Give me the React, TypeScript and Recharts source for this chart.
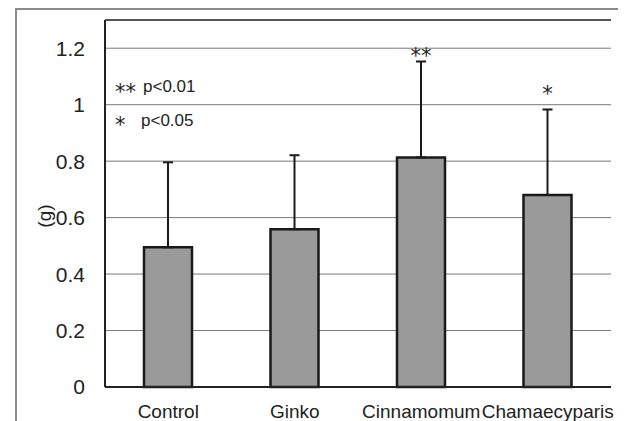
import React from 'react';
import {
  ComposedChart,
  Bar,
  XAxis,
  YAxis,
  CartesianGrid,
  ErrorBar,
  LabelList,
  ReferenceLine,
} from 'recharts';

const categories = ['Control', 'Ginko', 'Cinnamomum', 'Chamaecyparis'];
const means = [0.495, 0.559, 0.813, 0.68];
const sds = [0.301, 0.262, 0.34, 0.303];
const significance = ['', '', '**', '*'];
const yTicks = [0, 0.2, 0.4, 0.6, 0.8, 1, 1.2];
const yMax = 1.3;
const noteStars = ['**', '*'];
const noteTexts = ['p<0.01', 'p<0.05'];
const yLabel = '(g)';

const data = categories.map((name, i) => ({
  name,
  mean: means[i],
  err: [0, sds[i]],
  sig: significance[i],
}));

const FONT = '"Liberation Sans", Arial, sans-serif';
const STAR_FONT = '"DejaVu Sans", sans-serif';

const renderSig = (props: any) => {
  const { x, y, width, height, index, value } = props;
  if (!value) return null;
  const m = means[index];
  const errTop = Number(y) - (sds[index] * Number(height)) / m;
  const dy = value === '**' ? 2 : -8;
  return (
    <text
      x={Number(x) + Number(width) / 2}
      y={errTop + dy}
      textAnchor="middle"
      fontSize={21}
      fontFamily={STAR_FONT}
      fill="#222"
    >
      {value}
    </text>
  );
};

export default function App() {
  return (
    <div style={{ position: 'relative', width: 618, height: 413 }}>
      <ComposedChart
        width={618}
        height={413}
        data={data}
        margin={{ top: 12, right: 15, bottom: 0, left: 0 }}
      >
        <CartesianGrid vertical={false} stroke="#7a7a7a" strokeWidth={1} />
        <ReferenceLine y={yMax} stroke="#555" strokeWidth={2} ifOverflow="extendDomain" />
        <XAxis
          dataKey="name"
          interval={0}
          tickLine={false}
          tickSize={0}
          tickMargin={18}
          height={34}
          axisLine={{ stroke: '#222', strokeWidth: 2 }}
          tick={{ fontSize: 19, fill: '#222', fontFamily: FONT }}
        />
        <YAxis
          domain={[0, yMax]}
          ticks={yTicks}
          width={97}
          tickLine={false}
          tickSize={0}
          tickMargin={20}
          axisLine={{ stroke: '#222', strokeWidth: 2 }}
          tick={{ fontSize: 21, fill: '#222', fontFamily: FONT }}
          label={{
            content: () => (
              <text
                x={36}
                y={208}
                transform="rotate(-90 36 208)"
                textAnchor="middle"
                dominantBaseline="central"
                fontSize={19}
                fontFamily={FONT}
                fill="#222"
              >
                {yLabel}
              </text>
            ),
          }}
        />
        <YAxis
          yAxisId="r"
          orientation="right"
          width={0}
          domain={[0, yMax]}
          tick={false}
          tickLine={false}
          axisLine={{ stroke: '#555', strokeWidth: 1.5 }}
        />
        <Bar
          dataKey="mean"
          fill="#9a9a9a"
          stroke="#1a1a1a"
          strokeWidth={2.5}
          barSize={48}
          isAnimationActive={false}
        >
          <ErrorBar
            dataKey="err"
            direction="y"
            width={5}
            stroke="#1a1a1a"
            strokeWidth={2}
            isAnimationActive={false}
          />
          <LabelList dataKey="sig" content={renderSig} />
        </Bar>
      </ComposedChart>
      <svg
        width={618}
        height={413}
        style={{ position: 'absolute', left: 0, top: 0, pointerEvents: 'none' }}
      >
        {noteStars.map((s, i) => (
          <text
            key={'s' + i}
            x={107}
            y={[91, 124][i]}
            fontSize={21}
            fontFamily={STAR_FONT}
            fill="#222"
          >
            {s}
          </text>
        ))}
        {noteTexts.map((t, i) => (
          <text
            key={'t' + i}
            x={[135, 133][i]}
            y={[84, 117.5][i]}
            fontSize={17}
            fontFamily={FONT}
            fill="#222"
          >
            {t}
          </text>
        ))}
      </svg>
      <div style={{ position: 'absolute', left: 7, top: 0, width: 607, height: 2, background: '#8a8a8a' }} />
      <div style={{ position: 'absolute', left: 7, top: 0, width: 2, height: 413, background: '#8a8a8a' }} />
      <div style={{ position: 'absolute', left: 613, top: 0, width: 2, height: 413, background: '#8a8a8a' }} />
    </div>
  );
}
